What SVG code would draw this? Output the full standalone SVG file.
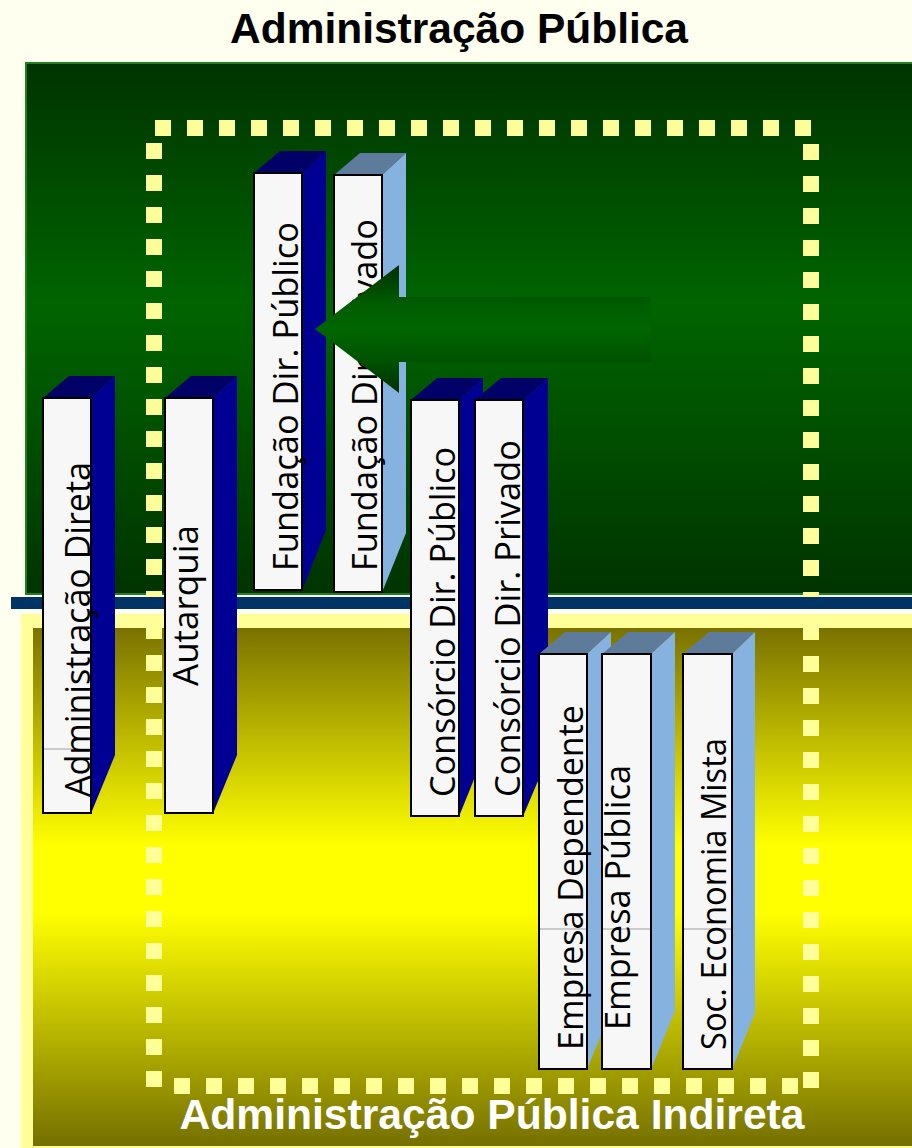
<svg xmlns="http://www.w3.org/2000/svg" width="912" height="1148" viewBox="0 0 912 1148">
<defs>
<linearGradient id="gGreen" x1="0" y1="0" x2="0" y2="1">
<stop offset="0" stop-color="#003300"/>
<stop offset="0.45" stop-color="#006400"/>
<stop offset="0.6" stop-color="#005800"/>
<stop offset="1" stop-color="#003300"/>
</linearGradient>
<linearGradient id="gOlive" x1="0" y1="0" x2="0" y2="1">
<stop offset="0" stop-color="#7a7200"/>
<stop offset="0.42" stop-color="#ffff00"/>
<stop offset="0.55" stop-color="#ffff00"/>
<stop offset="1" stop-color="#757000"/>
</linearGradient>
<linearGradient id="gArrow" x1="0" y1="0" x2="0" y2="1">
<stop offset="0" stop-color="#002e00"/>
<stop offset="0.3" stop-color="#005c00"/>
<stop offset="0.5" stop-color="#006600"/>
<stop offset="0.75" stop-color="#005200"/>
<stop offset="1" stop-color="#002e00"/>
</linearGradient>
<style>
.front{fill:#f7f7f7;stroke:#000;stroke-width:2}
.dTop{fill:#000066}
.dSide{fill:#000092}
.lTop{fill:#5e7b9b}
.lSide{fill:#86b2e0}
.lbl{font-family:"Open Sans","Noto Sans",sans-serif;font-size:34px;fill:#000}
.dots{fill:none;stroke:#ffff99;stroke-width:16;stroke-dasharray:16 16}
.seam{stroke:#a0a0a0;stroke-width:1}
</style>
</defs>
<rect x="0" y="0" width="912" height="1148" fill="#fffff0"/>
<text x="459" y="43" text-anchor="middle" textLength="458" lengthAdjust="spacingAndGlyphs" font-family="'Liberation Sans',Arial,sans-serif" font-weight="bold" font-size="42" fill="#000">Administração Pública</text>
<rect x="26" y="63" width="892" height="531" fill="url(#gGreen)" stroke="#1f7f1f" stroke-width="2"/>
<rect x="21" y="614" width="891" height="534" fill="#ffff99"/>
<rect x="33" y="628" width="879" height="518" fill="url(#gOlive)"/>
<g id="dotted-frame">
<line class="dots" x1="155" y1="128" x2="820" y2="128"/>
<line class="dots" x1="154" y1="143" x2="154" y2="1094"/>
<line class="dots" x1="811" y1="144" x2="811" y2="1094"/>
<line class="dots" x1="174" y1="1086" x2="800" y2="1086"/>
</g>
<rect x="11" y="597" width="901" height="12" fill="#003366"/>
<g id="n1">
<polygon class="dTop" points="43,398 69,376 115,376 91,398"/>
<polygon class="dSide" points="91,398 115,376 115,755 92,811"/>
<rect class="front" x="43" y="398" width="48" height="415"/>
<line class="seam" x1="44" y1="749" x2="90" y2="749"/>
<text class="lbl" transform="translate(90,797) rotate(-90)" textLength="335" lengthAdjust="spacingAndGlyphs">Administração Direta</text>
</g>
<g id="n2">
<polygon class="dTop" points="165,398 191,376 237,376 213,398"/>
<polygon class="dSide" points="213,398 237,376 237,755 214,811"/>
<rect class="front" x="165" y="398" width="48" height="415"/>
<text class="lbl" transform="translate(198,686) rotate(-90)" textLength="161" lengthAdjust="spacingAndGlyphs">Autarquia</text>
</g>
<g id="n3">
<polygon class="dTop" points="254,173 280,151 326,151 302,173"/>
<polygon class="dSide" points="302,173 326,151 326,530 303,588"/>
<rect class="front" x="254" y="173" width="48" height="417"/>
<text class="lbl" transform="translate(298,571) rotate(-90)" textLength="349" lengthAdjust="spacingAndGlyphs">Fundação Dir. Público</text>
</g>
<g id="n4">
<polygon class="lTop" points="334,175 360,153 406,153 382,175"/>
<polygon class="lSide" points="382,175 406,153 406,533 383,590"/>
<rect class="front" x="334" y="175" width="48" height="417"/>
<text class="lbl" transform="translate(377,571) rotate(-90)" textLength="352" lengthAdjust="spacingAndGlyphs">Fundação Dir. Privado</text>
</g>
<g id="n5">
<polygon class="dTop" points="411,400 437,378 483,378 459,400"/>
<polygon class="dSide" points="459,400 483,378 483,757 460,814"/>
<rect class="front" x="411" y="400" width="48" height="416"/>
<text class="lbl" transform="translate(455,797) rotate(-90)" textLength="350" lengthAdjust="spacingAndGlyphs">Consórcio Dir. Público</text>
</g>
<g id="n6">
<polygon class="dTop" points="475,400 501,378 548,378 523,400"/>
<polygon class="dSide" points="523,400 548,378 548,757 524,814"/>
<rect class="front" x="475" y="400" width="48" height="416"/>
<text class="lbl" transform="translate(520,797) rotate(-90)" textLength="357" lengthAdjust="spacingAndGlyphs">Consórcio Dir. Privado</text>
</g>
<g id="n7">
<polygon class="lTop" points="539,654 565,632 611,632 587,654"/>
<polygon class="lSide" points="587,654 611,632 611,1011 588,1067"/>
<rect class="front" x="539" y="654" width="48" height="415"/>
<line class="seam" x1="540" y1="929" x2="586" y2="929"/>
<text class="lbl" transform="translate(583,1050) rotate(-90)" textLength="345" lengthAdjust="spacingAndGlyphs">Empresa Dependente</text>
</g>
<g id="n8">
<polygon class="lTop" points="602,654 628,632 675,632 651,654"/>
<polygon class="lSide" points="651,654 675,632 675,1011 652,1067"/>
<rect class="front" x="602" y="654" width="49" height="415"/>
<line class="seam" x1="603" y1="929" x2="650" y2="929"/>
<text class="lbl" transform="translate(630,1030) rotate(-90)" textLength="265" lengthAdjust="spacingAndGlyphs">Empresa Pública</text>
</g>
<g id="n9">
<polygon class="lTop" points="683,654 709,632 755,632 732,654"/>
<polygon class="lSide" points="732,654 755,632 755,1013 733,1067"/>
<rect class="front" x="683" y="654" width="49" height="415"/>
<line class="seam" x1="684" y1="929" x2="731" y2="929"/>
<text class="lbl" transform="translate(726,1050) rotate(-90)" textLength="312" lengthAdjust="spacingAndGlyphs">Soc. Economia Mista</text>
</g>
<g id="connectors">
<polygon points="315,329 399,265 399,297 651,297 651,362 399,362 399,393" fill="url(#gArrow)"/>
</g>
<text x="492" y="1129" text-anchor="middle" textLength="625" lengthAdjust="spacingAndGlyphs" font-family="'Liberation Sans',Arial,sans-serif" font-weight="bold" font-size="43" fill="#ffffff">Administração Pública Indireta</text>
</svg>
